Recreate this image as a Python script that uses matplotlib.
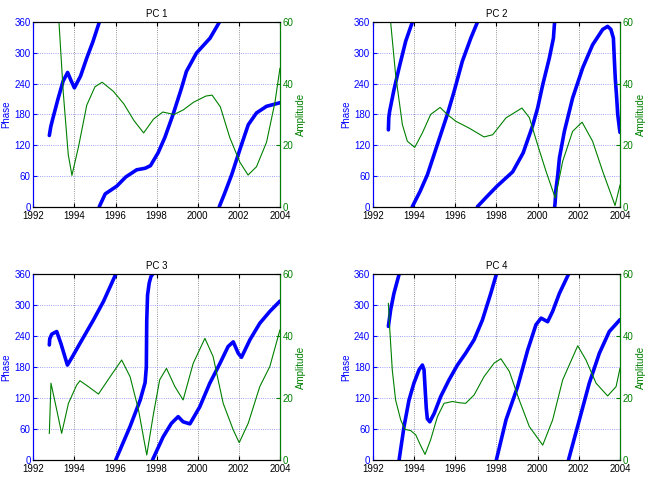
"""
plot.py
-------
Phase (blue dots, left axis) and amplitude (green line, right axis)
of the first four principal components, 1992-2004.
"""

import numpy as np
import matplotlib
matplotlib.use("Agg")
import matplotlib.pyplot as plt

plt.rcParams["font.family"] = ["Liberation Sans", "DejaVu Sans"]

# ----------------------------------------------------------------------
# DATA (phase wrapped to 0-360)
# ----------------------------------------------------------------------
titles = ["PC 1", "PC 2", "PC 3", "PC 4"]

t_phase1 = [1992.78, 1992.85, 1992.95, 1993.2, 1993.45, 1993.67, 1993.85, 1994.0,
            1994.3, 1994.6, 1994.9, 1995.21, 1995.21, 1995.5, 1996.06, 1996.5,
            1997.03, 1997.44, 1997.7, 1998.07, 1998.4, 1998.8, 1999.2, 1999.45,
            1999.94, 2000.6, 2001.05, 2001.05, 2001.3, 2001.65, 2002.08, 2002.46,
            2002.86, 2003.35, 2003.92, 2004.0]
phase1 = [139, 156, 172, 210, 245, 262, 245, 232,
          255, 290, 322, 360, 0, 25, 40, 58,
          72, 75, 80, 105, 135, 180, 230, 264,
          300, 329, 360, 0, 25, 62, 115, 160,
          183, 196, 202, 203]
t_amp1 = [1992.8, 1993.0, 1993.25, 1993.46, 1993.7, 1993.88, 1994.2, 1994.6,
          1995.0, 1995.35, 1995.9, 1996.4, 1996.9, 1997.37, 1997.85, 1998.3,
          1998.85, 1999.3, 1999.8, 2000.4, 2000.7, 2001.1, 2001.56, 2002.05,
          2002.45, 2002.86, 2003.35, 2003.76, 2004.0]
amp1 = [95, 80, 60, 37, 17, 10.2, 19.5, 33,
        39, 40.5, 37.5, 33.5, 28, 24, 28.5, 30.8,
        30, 31.5, 34, 36, 36.3, 32.5, 22.5, 14.5,
        10.3, 13, 21, 34, 45]

t_phase2 = [1992.76, 1992.78, 1992.82, 1993.03, 1993.28, 1993.6, 1993.92, 1993.92,
            1994.3, 1994.65, 1995.3, 1995.62, 1995.95, 1996.35, 1996.76, 1997.08,
            1997.08, 1997.5, 1998.03, 1998.79, 1999.3, 1999.76, 2000.0, 2000.25,
            2000.57, 2000.77, 2000.81, 2000.83, 2000.83, 2000.85, 2000.89, 2000.98,
            2001.06, 2001.3, 2001.7, 2002.19, 2002.67, 2003.16, 2003.4, 2003.56,
            2003.68, 2003.73, 2003.77, 2003.84, 2003.89, 2003.97, 2004.0]
phase2 = [150, 174, 186, 228, 271, 323, 360, 0,
          30, 62, 141, 180, 225, 284, 329, 360,
          0, 18, 40, 68, 105, 158, 192, 238,
          290, 329, 352, 360, 0, 7, 33, 62,
          95, 147, 212, 271, 316, 346, 352, 346,
          329, 284, 251, 212, 180, 154, 145]
t_amp2 = [1992.8, 1992.87, 1993.11, 1993.44, 1993.68, 1994.04, 1994.41, 1994.81,
          1995.27, 1995.62, 1996.03, 1996.67, 1997.4, 1997.82, 1998.47, 1999.24,
          1999.6, 2000.0, 2000.41, 2000.86, 2001.22, 2001.7, 2002.16, 2002.67,
          2003.16, 2003.76, 2004.0]
amp2 = [64, 60, 43, 26.7, 21.3, 19.3, 24, 30,
        32.3, 30, 27.8, 25.6, 22.7, 23.4, 28.9, 32.1,
        29, 20.2, 11.5, 2.8, 14.8, 24.5, 27.5, 21.3,
        11.5, 0.4, 7]

t_phase3 = [1992.78, 1992.8, 1992.9, 1993.14, 1993.35, 1993.66, 1993.9, 1994.27,
            1994.92, 1995.41, 1995.74, 1996.01, 1996.01, 1996.71, 1997.2, 1997.44,
            1997.5, 1997.52, 1997.56, 1997.64, 1997.72, 1997.8, 1997.8, 1998.32,
            1998.72, 1999.05, 1999.29, 1999.62, 2000.1, 2000.59, 2001.08, 2001.48,
            2001.73, 2001.97, 2002.13, 2002.54, 2003.02, 2003.51, 2004.0]
phase3 = [223, 235, 244, 249, 225, 184, 200, 226,
          271, 307, 336, 360, 0, 65, 116, 150,
          180, 270, 320, 343, 355, 360, 0, 45,
          71, 84, 74, 70, 103, 149, 187, 220,
          229, 207, 199, 233, 265, 288, 308]
t_amp3 = [1992.78, 1992.86, 1993.14, 1993.38, 1993.71, 1994.11, 1994.27, 1994.68,
          1995.17, 1995.74, 1996.3, 1996.71, 1997.12, 1997.52, 1997.85, 1998.15,
          1998.48, 1998.89, 1999.29, 1999.78, 2000.35, 2000.75, 2001.24, 2001.73,
          2002.02, 2002.46, 2003.02, 2003.51, 2004.0]
amp3 = [8.6, 24.8, 16.2, 8.6, 18.3, 24.2, 25.6, 23.7,
        21.3, 26.9, 32.3, 26.9, 16.2, 1.6, 15, 25.9,
        29.6, 23.7, 19.4, 31.2, 39.3, 33.4, 18.3, 9.7,
        5.6, 11.9, 23.7, 30.2, 42]

t_phase4 = [1992.76, 1992.87, 1993.03, 1993.28, 1993.28, 1993.52, 1993.76, 1994.0,
            1994.25, 1994.41, 1994.49, 1994.54, 1994.6, 1994.65, 1994.77, 1994.98,
            1995.3, 1995.7, 1996.11, 1996.51, 1996.92, 1997.32, 1997.73, 1998.0,
            1998.0, 1998.47, 1999.03, 1999.52, 1999.92, 2000.17, 2000.49, 2000.73,
            2001.06, 2001.5, 2001.5, 2002.03, 2002.51, 2003.0, 2003.48, 2004.0]
phase4 = [259, 291, 323, 360, 0, 65, 116, 149,
          175, 184, 175, 140, 100, 80, 74, 90,
          123, 155, 184, 207, 233, 271, 323, 360,
          0, 78, 142, 213, 262, 275, 268, 288,
          323, 360, 0, 78, 149, 207, 249, 272]
t_amp4 = [1992.76, 1992.82, 1992.95, 1993.11, 1993.36, 1993.57, 1993.84, 1994.09,
          1994.3, 1994.54, 1994.81, 1995.14, 1995.46, 1995.87, 1996.19, 1996.51,
          1996.92, 1997.4, 1997.89, 1998.22, 1998.63, 1999.11, 1999.6, 2000.25,
          2000.73, 2001.22, 2001.95, 2002.35, 2002.84, 2003.4, 2003.81, 2004.0]
amp4 = [50.6, 43, 29, 19.4, 12.9, 9.9, 9.5, 8.1,
        5, 1.8, 6.5, 14, 18.3, 18.9, 18.5, 18.3,
        21, 26.9, 31.3, 32.7, 28.6, 19.4, 10.8, 4.8,
        12.9, 25.9, 36.9, 32.3, 24.8, 20.7, 23.7, 29.6]

x_ticks = [1992, 1994, 1996, 1998, 2000, 2002, 2004]
phase_ticks = [0, 60, 120, 180, 240, 300, 360]
amp_ticks = [0, 20, 40, 60]

# ----------------------------------------------------------------------
# STYLE
# ----------------------------------------------------------------------
BLUE = (0, 0, 1)
GREEN = (0, 0.5, 0)
FS = 7
AX_POS = [
    [0.0513, 0.5676, 0.380, 0.3858],
    [0.5743, 0.5676, 0.381, 0.3858],
    [0.0513, 0.0377, 0.380, 0.3885],
    [0.5743, 0.0377, 0.381, 0.3885],
]


def plot_phase(ax, t, phase):
    """Draw the wrapped phase, breaking the line at each 360 -> 0 jump."""
    t = np.asarray(t, dtype=float)
    phase = np.asarray(phase, dtype=float)
    cuts = np.where(np.abs(np.diff(phase)) > 180)[0] + 1
    for ts, ps in zip(np.split(t, cuts), np.split(phase, cuts)):
        ax.plot(ts, ps, color=BLUE, lw=2.6, solid_capstyle="round")


def draw_panel(fig, pos, title, t_phase, phase, t_amp, amp):
    ax = fig.add_axes(pos)
    plot_phase(ax, t_phase, phase)
    ax.set_xlim(1992, 2004)
    ax.set_ylim(0, 360)
    ax.set_xticks(x_ticks)
    ax.set_yticks(phase_ticks)
    ax.tick_params(axis="x", direction="in", length=3, labelsize=FS,
                   colors="black", top=True, pad=3)
    ax.tick_params(axis="y", direction="in", length=3, labelsize=FS,
                   colors=BLUE, pad=2)
    ax.set_ylabel("Phase", color=BLUE, fontsize=FS, labelpad=2)
    ax.set_title(title, fontsize=FS, pad=4)
    ax.grid(axis="x", linestyle=":", color=(0.45, 0.45, 0.45), lw=0.6)
    ax.grid(axis="y", linestyle=":", color=(0.5, 0.5, 1.0), lw=0.6)
    ax.spines["left"].set_color(BLUE)

    ax2 = ax.twinx()
    ax2.plot(t_amp, amp, color=GREEN, lw=0.8)
    ax2.set_xlim(1992, 2004)
    ax2.set_ylim(0, 60)
    ax2.set_yticks(amp_ticks)
    ax2.tick_params(axis="y", direction="in", length=3, labelsize=FS,
                    colors=GREEN, pad=2)
    ax2.set_ylabel("Amplitude", color=GREEN, fontsize=FS, labelpad=2)
    ax2.spines["right"].set_color(GREEN)
    ax2.spines["left"].set_color(BLUE)
    return ax, ax2


def main():
    fig = plt.figure(figsize=(6.49, 4.78), dpi=100)
    panels = [
        (t_phase1, phase1, t_amp1, amp1),
        (t_phase2, phase2, t_amp2, amp2),
        (t_phase3, phase3, t_amp3, amp3),
        (t_phase4, phase4, t_amp4, amp4),
    ]
    for pos, title, data in zip(AX_POS, titles, panels):
        draw_panel(fig, pos, title, *data)
    fig.savefig("out.png", dpi=100)
    plt.close(fig)


if __name__ == "__main__":
    main()
